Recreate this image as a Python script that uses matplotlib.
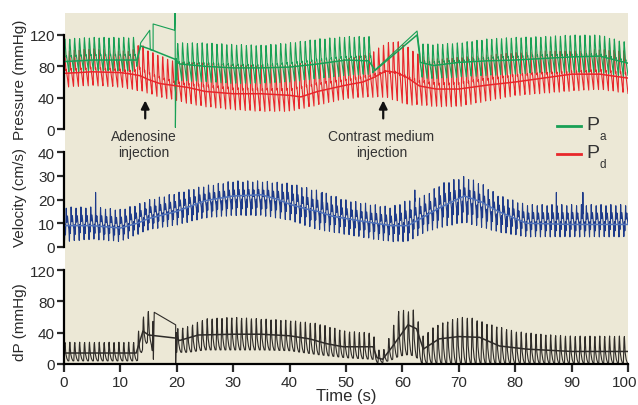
import numpy as np
import matplotlib
matplotlib.use("Agg")
import matplotlib.pyplot as plt
import matplotlib.transforms as mtransforms
from matplotlib.patches import Rectangle
from matplotlib.lines import Line2D

plt.rcParams['font.family'] = ['Liberation Sans', 'DejaVu Sans']

W, H = 638, 406
BEAT_PERIOD = 0.87  # s, read from beat spacing

# ---------------- aortic pressure Pa (mmHg) ----------------
pa_knot_t = [0, 5, 10, 12.9, 19.9, 25, 30, 35, 40, 45, 50, 54.8, 63.1, 65, 70, 75, 80, 85, 90, 95, 100]
pa_low = [72, 74, 74, 74, 62, 60, 58, 58, 60, 64, 68, 70, 66, 64, 66, 68, 70, 72, 72, 72, 66]
pa_high = [115, 117, 117, 117, 110, 110, 108, 107, 110, 115, 118, 118, 110, 108, 110, 115, 117, 118, 120, 120, 110]
# signal dropouts drawn as straight segments
pa_gap1_t = [12.9, 13.6, 15.2, 15.3, 15.8, 15.8, 19.6, 19.7, 19.75, 19.9]
pa_gap1_v = [80, 110, 126, 101, 100, 134, 126, 150, 2, 90]
pa_gap2_t = [54.8, 62.6, 63.1]
pa_gap2_v = [73, 125, 96]
pa_mean_t = [0, 5, 10, 12.9, 13.6, 15.2, 19.7, 20.5, 25, 30, 35, 40, 45, 50, 54, 55.2, 62.6, 63.2,
             65.5, 70, 75, 80, 85, 90, 95, 100]
pa_mean_v = [86, 88, 88, 88, 106, 102, 89, 83, 80, 78, 78, 79, 83, 88, 87, 75, 120, 85,
             81, 85, 87, 88, 90, 92, 93, 84]

# ---------------- distal pressure Pd (mmHg) ----------------
pd_knot_t = [0, 5, 10, 12, 13.5, 15, 17, 20, 22, 25, 30, 35, 40, 45, 50, 53, 55, 57, 59, 61, 63,
             66, 70, 75, 80, 85, 90, 95, 100]
pd_low = [53, 55, 53, 50, 48, 45, 40, 36, 32, 28, 24, 22, 22, 30, 38, 40, 40, 40, 35, 30, 30,
          28, 28, 35, 42, 45, 48, 50, 45]
pd_high = [100, 103, 100, 100, 110, 100, 94, 85, 85, 85, 82, 82, 82, 88, 90, 95, 100, 110, 113, 105, 95,
           90, 92, 95, 98, 100, 100, 102, 100]
pd_mean_t = [0, 5, 10, 12, 13.5, 15, 17, 20, 22, 25, 30, 35, 40, 42, 45, 50, 53, 55, 57, 59, 61, 63,
             66, 70, 75, 80, 85, 90, 95, 100]
pd_mean_v = [71, 73, 72, 70, 68, 63, 58, 55, 53, 48, 45, 45, 43, 41, 48, 56, 60, 66, 74, 72, 65, 55,
             51, 51, 56, 60, 65, 70, 70, 65]

# ---------------- velocity (cm/s) ----------------
vel_knot_t = [0, 5, 10, 13, 15, 20, 25, 30, 35, 40, 45, 50, 55, 58, 61, 64, 67, 71, 74, 77, 82, 90, 100]
vel_low = [2, 3, 2, 5, 7, 9, 12, 13, 13, 11, 7, 5, 3, 2, 2, 6, 8, 10, 8, 6, 4, 4, 4]
vel_high = [17, 17, 16, 18, 20, 23, 26, 28, 28, 27, 24, 20, 18, 17, 20, 22, 27, 30, 27, 22, 18, 18, 18]
vel_mean_t = [0, 5, 10, 13, 15, 20, 25, 30, 35, 38, 40, 43, 45, 47.5, 52.5, 58, 61, 64, 67, 71, 74,
              77, 82, 90, 100]
vel_mean_v = [9, 9, 8, 10, 12, 15, 19.5, 21.5, 22, 20, 18, 16, 15, 13, 11, 9, 9, 13, 17, 21.5, 19,
              15, 10, 9.5, 9.5]
vel_spike_t = [5.6, 45.8, 62.2, 87.3, 92.0]
vel_spike_v = [23, 23, 24, 23, 23]

# ---------------- dP (mmHg) ----------------
dp_knot_t = [0, 12.8, 13.3, 14.0, 14.8, 15.5, 15.8, 19.9, 22, 25, 30, 35, 40, 45, 50, 54.8, 55.5,
             56.5, 58, 59.4, 61, 62.3, 63.5, 66, 70, 72, 75, 80, 85, 90, 100]
dp_low = [4, 4, 5, 20, 28, 25, 10, 15, 15, 18, 18, 18, 17, 12, 8, 6, 2, 2, 5, 10, 12, 10, 1, 1,
          1, 1, 1, 1, 1, 1, 1]
dp_high = [28, 28, 45, 60, 69, 62, 60, 45, 48, 58, 60, 58, 56, 52, 42, 40, 20, 15, 40, 70, 68, 70,
           35, 50, 60, 60, 52, 42, 38, 36, 36]
dp_gap_t = [15.8, 15.85, 16.0, 19.8, 19.8, 19.9]
dp_gap_v = [30, 6, 66, 50, 0, 40]
dp_mean_t = [0, 12.8, 14.0, 15.0, 19.9, 20.5, 23.8, 30, 35, 40, 43.6, 46.5, 49.5, 54.8, 55.5, 56.5,
             58, 61, 62.5, 63.7, 66.5, 70, 73.7, 77.2, 82, 90, 100]
dp_mean_v = [14, 14, 42, 37, 33, 30, 37, 38, 38, 36, 32, 26, 22, 22, 8, 6, 20, 50, 45, 19, 32, 35,
             34, 23, 19, 16, 16]

# one-beat shapes (phase -> 0..1)
press_shape_p = [0, .08, .16, .28, .38, .44, .5, .65, .85, 1.0]
press_shape_v = [0, .75, 1.0, .8, .55, .45, .5, .35, .15, 0]
vel_shape_p = [0, .1, .2, .3, .45, .55, .7, .85, 1.0]
vel_shape_v = [.35, 0, .5, .2, 1.0, .55, .75, .5, .35]
dp_shape_p = [0, .12, .2, .35, .55, .8, 1.0]
dp_shape_v = [0, .85, 1.0, .4, .15, 0, 0]

TICKS_X = [0, 10, 20, 30, 40, 50, 60, 70, 80, 90, 100]


def beats(t, knot_t, low, high, sp, sv, shift=0.0):
    phase = ((t / BEAT_PERIOD) + shift) % 1.0
    s = np.interp(phase, sp, sv)
    lo = np.interp(t, knot_t, low)
    hi = np.interp(t, knot_t, high)
    return lo + (hi - lo) * s


def with_gaps(t, y, gaps):
    parts_t, parts_y = [], []
    start = -1.0
    for gt, gy in gaps:
        m = (t > start) & (t < gt[0])
        parts_t += [t[m], np.asarray(gt, float)]
        parts_y += [y[m], np.asarray(gy, float)]
        start = gt[-1]
    m = t > start
    parts_t.append(t[m])
    parts_y.append(y[m])
    return np.concatenate(parts_t), np.concatenate(parts_y)


t = np.arange(0, 100.001, 0.02)

pa = beats(t, pa_knot_t, pa_low, pa_high, press_shape_p, press_shape_v)
pa_t, pa = with_gaps(t, pa, [(pa_gap1_t, pa_gap1_v), (pa_gap2_t, pa_gap2_v)])
pd = beats(t, pd_knot_t, pd_low, pd_high, press_shape_p, press_shape_v, shift=0.05)

vel = beats(t, vel_knot_t, vel_low, vel_high, vel_shape_p, vel_shape_v)
for st, sv in zip(vel_spike_t, vel_spike_v):
    vel[np.argmin(np.abs(t - st))] = sv

dp = beats(t, dp_knot_t, dp_low, dp_high, dp_shape_p, dp_shape_v)
dp_t, dp = with_gaps(t, dp, [(dp_gap_t, dp_gap_v)])

fig = plt.figure(figsize=(W / 100, H / 100), dpi=100, facecolor="white")


def px_axes(top, bottom):
    return fig.add_axes([64 / W, 1 - bottom / H, 564 / W, (bottom - top) / H])


fig.add_artist(Rectangle((65 / W, 1 - 365 / H), 563 / W, 351 / H, transform=fig.transFigure,
                         facecolor="#ece8d6", edgecolor="none", zorder=0))

ax_p = px_axes(14, 131.6)
ax_v = px_axes(140, 255)
ax_d = px_axes(258, 366)

ax_p.set_ylim(-2, 148)
ax_v.set_ylim(-2.95, 45.5)
ax_d.set_ylim(-1.3, 136.6)

col_pa, col_pd = "#18a055", "#e8272b"
col_v, col_vm = "#1d3a8a", "#5273b8"
col_d = "#2e2b28"
txt_col = "#2b2b2b"

ax_p.plot(t, pd, color=col_pd, lw=0.8)
ax_p.plot(pa_t, pa, color=col_pa, lw=0.8)
ax_p.plot(pa_mean_t, pa_mean_v, color=col_pa, lw=1.1)
ax_p.plot(pd_mean_t, pd_mean_v, color=col_pd, lw=1.1)

ax_v.plot(t, vel, color=col_v, lw=0.8)
ax_v.plot(vel_mean_t, vel_mean_v, color=col_vm, lw=1.1)

ax_d.plot(dp_t, dp, color=col_d, lw=0.8)
ax_d.plot(dp_mean_t, dp_mean_v, color=col_d, lw=1.1)

for ax, yt, top in [(ax_p, [0, 40, 80, 120], 120), (ax_v, [0, 10, 20, 30, 40], 40),
                    (ax_d, [0, 40, 80, 120], 120)]:
    ax.set_facecolor("none")
    ax.set_xlim(0, 100)
    for s in ["top", "right", "bottom"]:
        ax.spines[s].set_visible(False)
    ax.spines["left"].set_bounds(0, top)
    ax.spines["left"].set_linewidth(1.6)
    ax.set_yticks(yt)
    ax.tick_params(axis="y", direction="out", length=5, width=1.6, labelsize=11, pad=1.5,
                   colors=txt_col)
    ax.set_xticks([])

ax_d.spines["bottom"].set_visible(True)
ax_d.spines["bottom"].set_linewidth(1.6)
ax_d.spines["bottom"].set_position(("data", 0))
ax_d.set_xticks(TICKS_X)
ax_d.tick_params(axis="x", direction="out", length=6, width=1.6, labelsize=11, pad=2,
                 colors=txt_col)
# keep the last tick label inside the picture
last = ax_d.get_xticklabels()[-1]
last.set_transform(last.get_transform() + mtransforms.ScaledTranslation(-3 / 100, 0, fig.dpi_scale_trans))

lab = dict(rotation=90, ha="center", va="center", fontsize=11, color=txt_col)
fig.text(20 / W, 1 - 80 / H, "Pressure (mmHg)", **lab)
fig.text(20 / W, 1 - 198 / H, "Velocity (cm/s)", **lab)
fig.text(20 / W, 1 - 322 / H, "dP (mmHg)", **lab)
fig.text(346 / W, 1 - 397 / H, "Time (s)", ha="center", va="center", fontsize=12, color=txt_col)

# injection markers
for tx, label in [(14.4, "Adenosine\ninjection"), (56.6, "Contrast medium\ninjection")]:
    ax_p.annotate("", xy=(tx, 40), xytext=(tx, 10),
                  arrowprops=dict(arrowstyle="-|>", color="#111111", lw=1.6, mutation_scale=12),
                  annotation_clip=False)
    ax_p.text(tx - 0.3, 0, label, ha="center", va="top", fontsize=10, color="#333333",
              linespacing=1.15, clip_on=False)

# legend
for y_px, sub, col in [(127, "a", col_pa), (155, "d", col_pd)]:
    fig.add_artist(Line2D([557 / W, 581 / W], [1 - y_px / H] * 2, transform=fig.transFigure,
                          color=col, lw=2))
    fig.text(586 / W, 1 - (y_px - 2) / H, "P", fontsize=14, ha="left", va="center", color="#333333")
    fig.text(600 / W, 1 - (y_px + 10) / H, sub, fontsize=8.5, ha="left", va="center", color="#333333")

fig.savefig("out.png", dpi=100, facecolor="white")
